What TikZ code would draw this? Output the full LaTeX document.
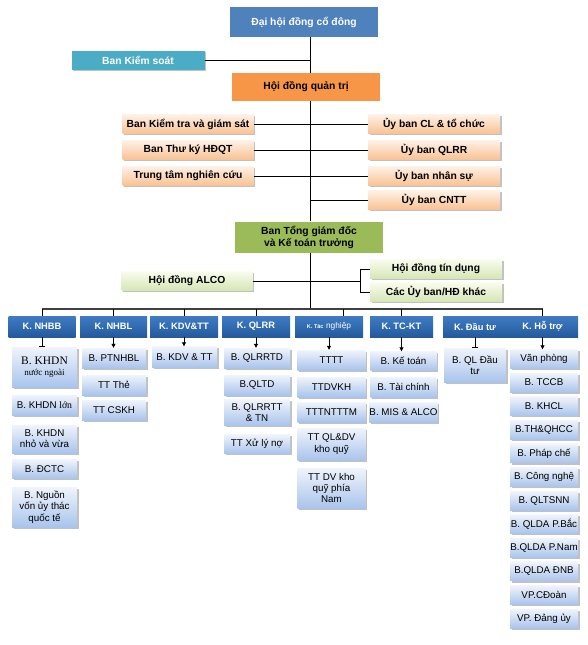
\documentclass[tikz,border=0pt]{standalone}
\usepackage{fontspec}
\setmainfont{Liberation Sans}
\newfontfamily\serifvn{Liberation Serif}
\usetikzlibrary{arrows.meta, positioning, shadows, calc}
\definecolor{dhblue}{HTML}{4F81BD}
\definecolor{kstea}{HTML}{4BACC6}
\definecolor{hdorange}{HTML}{F79646}
\definecolor{peachtop}{HTML}{FEF1E6}
\definecolor{peachbot}{HTML}{F9C294}
\definecolor{tgdgreen}{HTML}{9BBB59}
\definecolor{lgtop}{HTML}{F9FCEE}
\definecolor{lgbot}{HTML}{D5E6B4}
\definecolor{khoitop}{HTML}{3F7CC4}
\definecolor{khoibot}{HTML}{245A9C}
\definecolor{phtop}{HTML}{F0F4FB}
\definecolor{phbot}{HTML}{A9C4EC}

\begin{document}
\begin{tikzpicture}[x=1pt, y=-1pt,
  sz/.style 2 args={minimum width=#1pt, minimum height=#2pt, inner sep=0pt, align=center},
  bong/.style={drop shadow={shadow xshift=1.6pt, shadow yshift=-1.6pt, opacity=.35, fill=black!70}},
  topbox/.style={fill=dhblue, text=white, font=\bfseries\fontsize{10.3}{12}\selectfont},
  ksbox/.style={fill=kstea, text=white, bong, font=\bfseries\fontsize{10.3}{12}\selectfont},
  hdbox/.style={fill=hdorange, font=\bfseries\fontsize{10.3}{12}\selectfont},
  cam/.style={top color=peachtop, bottom color=peachbot, bong, font=\bfseries\fontsize{10.3}{12}\selectfont},
  tgdbox/.style={fill=tgdgreen, font=\bfseries\fontsize{10.3}{12}\selectfont},
  xanhla/.style={top color=lgtop, bottom color=lgbot, bong, font=\bfseries\fontsize{10.3}{12}\selectfont},
  khoi/.style={top color=khoitop, bottom color=khoibot, text=white, sz={#1}{21}, font=\bfseries\fontsize{9.3}{11}\selectfont},
  phong/.style={top color=phtop, bottom color=phbot, bong, font=\fontsize{9.8}{11.3}\selectfont},
  lien/.style={draw=black, line width=0.8pt},
  truclien/.style={draw=black!75, line width=1.2pt},
  mui/.style={lien, -{Triangle[length=4pt, width=4pt]}},
  chan/.style={lien, -{Bar[width=6pt]}}]
  \useasboundingbox (0,0) rectangle (587,645);

  % lanh dao
  \node[topbox, sz={148}{30}] (dhcd) at (304,22) {Đại hội đồng cổ đông};
  \node[ksbox, sz={133}{19}] (bks) at (138,60) {Ban Kiểm soát};
  \node[hdbox, sz={148}{28}] (hdqt) at (306,87) {Hội đồng quản trị};
  \node[cam, sz={131}{19}] (ktgs) at (188,124) {Ban Kiểm tra và giám sát};
  \node[cam, sz={131}{19}] (thuky) at (188,150) {Ban Thư ký HĐQT};
  \node[cam, sz={131}{19}] (ttnc) at (188,176) {Trung tâm nghiên cứu};
  \node[cam, sz={132}{19}] (uycl) at (434,124) {Ủy ban CL \& tổ chức};
  \node[cam, sz={132}{19}] (uyqlrr) at (434,150) {Ủy ban QLRR};
  \node[cam, sz={132}{19}] (uyns) at (434,176) {Ủy ban nhân sự};
  \node[cam, sz={132}{19}] (uycntt) at (434,200) {Ủy ban CNTT};
  \node[tgdbox, sz={148}{31}] (tgd) at (309,237) {Ban Tổng giám đốc\\và Kế toán trưởng};
  \node[xanhla, sz={131}{19}] (alco) at (187,281) {Hội đồng ALCO};
  \node[xanhla, sz={132}{19}] (tindung) at (436,269) {Hội đồng tín dụng};
  \node[xanhla, sz={132}{19}] (uykhac) at (436,292) {Các Ủy ban/HĐ khác};

  \coordinate (truc) at (310,0);
  \coordinate (ngoac) at (360,0);
  \coordinate (bus) at (0,309);

  \draw[lien] (truc |- dhcd.south) -- (truc |- hdqt.north);
  \draw[lien] (bks.east) -- (truc |- bks.east);
  \draw[lien] (truc |- hdqt.south) -- (truc |- tgd.north);
  \draw[lien] (ktgs.east) -- (truc |- ktgs.east);
  \draw[lien] (thuky.east) -- (truc |- thuky.east);
  \draw[lien] (ttnc.east) -- (truc |- ttnc.east);
  \draw[lien] (truc |- uycl.west) -- (uycl.west);
  \draw[lien] (truc |- uyqlrr.west) -- (uyqlrr.west);
  \draw[lien] (truc |- uyns.west) -- (uyns.west);
  \draw[lien] (truc |- uycntt.west) -- (uycntt.west);
  \draw[lien] (truc |- tgd.south) -- (truc |- bus);
  \draw[lien] (alco.east) -- (ngoac |- alco.east);
  \draw[lien] (tindung.west) -- (ngoac |- tindung.west)
    -- (ngoac |- uykhac.west) -- (uykhac.west);

  % cac khoi
  \node[khoi=67] (k1) at (42,326.5) {K. NHBB};
  \node[khoi=67] (k2) at (113.5,326.5) {K. NHBL};
  \node[khoi=68] (k3) at (184,326.5) {K. KDV\&TT};
  \node[khoi=68] (k4) at (256,326.5) {K. QLRR};
  \node[khoi=68] (k5) at (329,326.5)
    {{\fontsize{5.5}{6}\selectfont K. Tác} {\mdseries\fontsize{8.3}{9}\selectfont nghiệp}};
  \node[khoi=63] (k6) at (401.5,326.5) {K. TC-KT};
  \node[khoi=64] (k7) at (475,326.5) {K. Đầu tư};
  \node[khoi=71] (k8) at (542.5,326.5) {K. Hỗ trợ};

  \draw[truclien] (k1.north |- bus) -- (k8.north |- bus);
  \draw[lien] (k1.north |- bus) -- (k1.north);
  \draw[lien] (k2.north |- bus) -- (k2.north);
  \draw[lien] (k3.north |- bus) -- (k3.north);
  \draw[lien] (k4.north |- bus) -- (k4.north);
  \draw[lien] ([xshift=14pt]k5.north |- bus) -- ([xshift=14pt]k5.north);
  \draw[lien] (k6.north |- bus) -- (k6.north);
  \draw[lien] (k8.north |- bus) -- (k8.north);

  % K. NHBB
  \node[phong, sz={65}{40}] (c11) at (44.5,367)
    {{\serifvn\fontsize{11.5}{13}\selectfont B. KHDN}\\{\serifvn\fontsize{9}{10}\selectfont nước ngoài}};
  \node[phong, sz={65}{20}] (c12) at (44.5,405) {B. KHDN {\serifvn lớn}};
  \node[phong, sz={65}{28}] (c13) at (44.5,439) {B. KHDN\\nhỏ và vừa};
  \node[phong, sz={65}{19}] (c14) at (44.5,469) {B. ĐCTC};
  \node[phong, sz={65}{40}] (c15) at (44.5,507) {B. Nguồn\\vốn ủy thác\\quốc tế};
  % K. NHBL
  \node[phong, sz={64}{20}] (c21) at (114,358) {B. PTNHBL};
  \node[phong, sz={64}{20}] (c22) at (114,385) {TT Thẻ};
  \node[phong, sz={64}{20}] (c23) at (114,410) {TT CSKH};
  % K. KDV&TT
  \node[phong, sz={65}{21}] (c31) at (184.5,357) {B. KDV \& TT};
  % K. QLRR
  \node[phong, sz={66}{20}] (c41) at (257,358) {B. QLRRTD};
  \node[phong, sz={66}{20}] (c42) at (257,385) {B.QLTD};
  \node[phong, sz={66}{26}] (c43) at (257,412.5) {B. QLRRTT\\\& TN};
  \node[phong, sz={66}{19}] (c44) at (257,444) {TT Xử lý nợ};
  % K. Tac nghiep
  \node[phong, sz={68}{20}] (c51) at (331.5,360) {TTTT};
  \node[phong, sz={68}{20}] (c52) at (331.5,387) {TTDVKH};
  \node[phong, sz={68}{20}] (c53) at (331.5,412) {TTTNTTTM};
  \node[phong, sz={68}{32}] (c54) at (331.5,444) {TT QL\&DV\\kho quỹ};
  \node[phong, sz={68}{40}] (c55) at (331.5,488) {TT DV kho\\quỹ phía\\Nam};
  % K. TC-KT
  \node[phong, sz={66}{19}] (c61) at (403.5,361) {B. Kế toán};
  \node[phong, sz={66}{20}] (c62) at (403.5,387) {B. Tài chính};
  \node[phong, sz={66}{20}] (c63) at (403.5,412) {B. MIS \& ALCO};
  % K. Dau tu
  \node[phong, sz={62}{34}] (c71) at (475,365) {B. QL Đầu\\tư};
  % K. Ho tro
  \node[phong, sz={68}{19}] (c81) at (544,359) {Văn phòng};
  \node[phong, sz={68}{19}] (c82) at (544,382.6) {B. TCCB};
  \node[phong, sz={68}{19}] (c83) at (544,406.2) {B. KHCL};
  \node[phong, sz={68}{19}] (c84) at (544,429.8) {B.TH\&QHCC};
  \node[phong, sz={68}{19}] (c85) at (544,453.4) {B. Pháp chế};
  \node[phong, sz={68}{19}] (c86) at (544,477) {B. Công nghệ};
  \node[phong, sz={68}{19}] (c87) at (544,500.6) {B. QLTSNN};
  \node[phong, sz={68}{19}] (c88) at (544,524.2) {B. QLDA P.Bắc};
  \node[phong, sz={68}{19}] (c89) at (544,547.8) {B.QLDA P.Nam};
  \node[phong, sz={68}{19}] (c810) at (544,571.4) {B.QLDA ĐNB};
  \node[phong, sz={68}{19}] (c811) at (544,595) {VP.CĐoàn};
  \node[phong, sz={68}{19}] (c812) at (544,618.6) {VP. Đảng ủy};

  \draw[chan] (k1.south) -- (k1.south |- c11.north);
  \draw[mui] (k2.south) -- (k2.south |- c21.north);
  \draw[mui] (k3.south) -- (k3.south |- c31.north);
  \draw[mui] (k4.south) -- (k4.south |- c41.north);
  \draw[mui] (k5.south) -- (k5.south |- c51.north);
  \draw[mui] (k6.south) -- (k6.south |- c61.north);
  \draw[chan] (k7.south) -- (k7.south |- c71.north);
  \draw[mui] (k8.south) -- (k8.south |- c81.north);
\end{tikzpicture}
\end{document}
